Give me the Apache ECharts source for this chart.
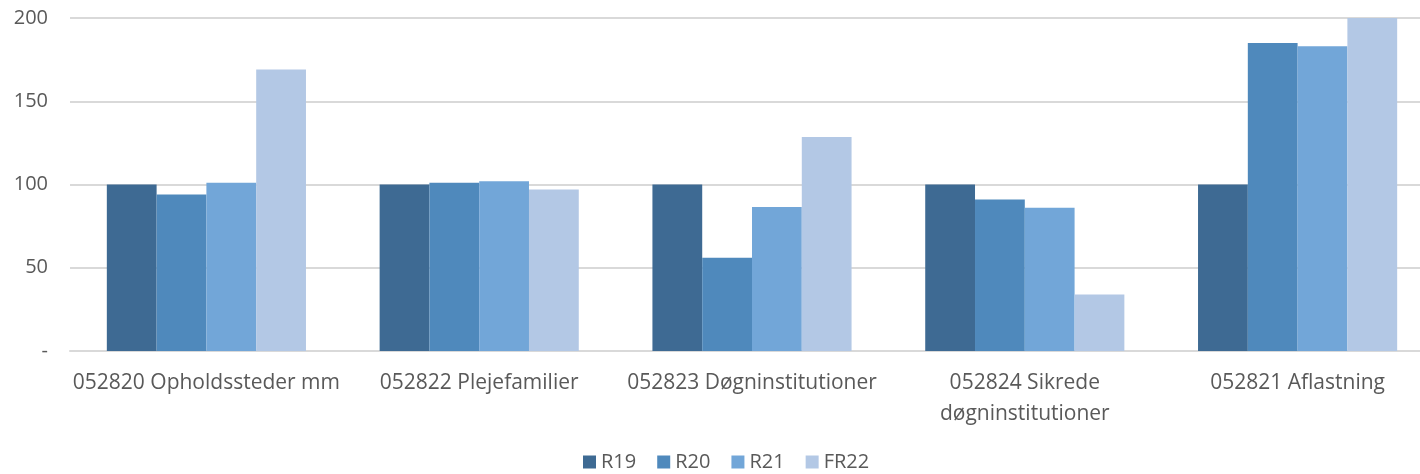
<!DOCTYPE html>
<html>
<head>
<meta charset="utf-8">
<script src="https://cdn.jsdelivr.net/npm/echarts@6/dist/echarts.min.js"></script>
<style>
html,body{margin:0;padding:0;background:#fff;}
#chartBar{width:1420px;height:474px;}
</style>
</head>
<body>
<div id="chartBar"></div>
<script>
var categories = ['052820 Opholdssteder mm', '052822 Plejefamilier', '052823 Døgninstitutioner', '052824 Sikrede\ndøgninstitutioner', '052821 Aflastning'];
var seriesNames = ['R19', 'R20', 'R21', 'FR22'];
var r19 = [100, 100, 100, 100, 100];
var r20 = [94, 101, 56, 91, 185];
var r21 = [101, 102, 86.5, 86, 183];
var fr22 = [169, 97, 128.5, 34, 200];
var yTicks = [0, 50, 100, 150, 200];

var colors = ['#3E6A93', '#4F89BC', '#72A6D8', '#B3C8E5'];
var values = [r19, r20, r21, fr22];

var myChart = echarts.init(document.getElementById('chartBar'));
var font = '"Open Sans", sans-serif';
var option = {
    backgroundColor: '#fff',
    animation: false,
    color: colors,
    legend: {
        data: seriesNames,
        bottom: -3,
        left: 578,
        itemWidth: 13,
        itemHeight: 13,
        itemGap: 21,
        icon: 'rect',
        textStyle: { color: '#595959', fontSize: 20, fontFamily: font }
    },
    grid: { left: 70, width: 1364, top: 18, bottom: 123, outerBoundsMode: 'none', containLabel: false },
    xAxis: {
        type: 'category',
        data: categories,
        axisLine: { show: true, lineStyle: { color: '#d9d9d9', width: 2 } },
        axisTick: { show: false },
        axisLabel: { color: '#595959', fontSize: 21, fontFamily: font, margin: 17, interval: 0, lineHeight: 31 }
    },
    yAxis: {
        type: 'value',
        min: 0,
        max: 200,
        interval: 50,
        axisLine: { show: false },
        axisTick: { show: false },
        splitLine: { lineStyle: { color: '#d9d9d9', width: 2 } },
        axisLabel: {
            color: '#595959', fontSize: 20, fontFamily: font, margin: 22,
            formatter: function (v) { return v === yTicks[0] ? '-' : String(v); }
        }
    },
    series: seriesNames.map(function (name, i) {
        return {
            name: name,
            type: 'bar',
            data: values[i],
            barGap: '0%',
            barCategoryGap: '27%',
            itemStyle: { color: colors[i] }
        };
    })
};
myChart.setOption(option);
</script>
</body>
</html>
